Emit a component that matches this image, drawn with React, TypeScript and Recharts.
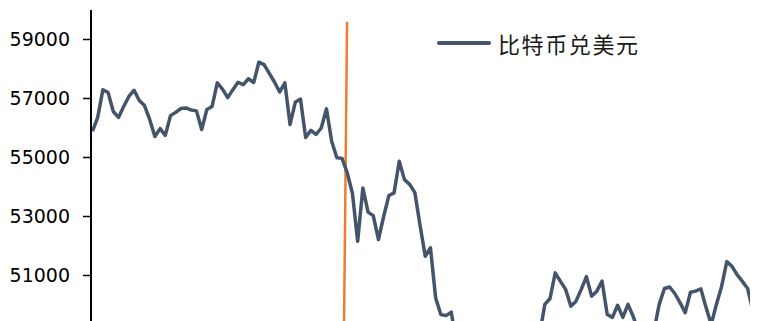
import React from "react";
import { LineChart, Line, XAxis, YAxis, ReferenceLine, Legend } from "recharts";

// BTC/USD price samples (equally spaced in time)
const btcUsd: number[] = [
  55890, 56360, 57300, 57200, 56560, 56360, 56730, 57070, 57280, 56930,
  56760, 56290, 55710, 55980, 55750, 56420, 56530, 56660, 56680, 56610,
  56580, 55950, 56630, 56730, 57530, 57320, 57030, 57300, 57550, 57470,
  57670, 57540, 58230, 58150, 57850, 57560, 57220, 57530, 56120, 56870,
  56980, 55680, 55920, 55780, 56000, 56650, 55550, 54990, 54970, 54480,
  53780, 52160, 53970, 53150, 53030, 52220, 53000, 53710, 53800, 54870,
  54250, 54090, 53810, 52700, 51650, 51940, 50240, 49680, 49640, 49760,
  48700, 48900, 48500, 48800, 49100, 48600, 48300, 48700, 49000, 48800,
  48400, 48600, 48900, 49200, 48700, 48600, 49000, 50020, 50220, 51090,
  50800, 50530, 49960, 50130, 50530, 50960, 50300, 50470, 50810, 49680,
  49580, 49990, 49580, 50020, 49610, 49100, 48800, 49000, 49130, 50020,
  50560, 50610, 50390, 50080, 49740, 50430, 50470, 50550, 49920, 49340,
  50020, 50630, 51470, 51310, 51020, 50800, 50560, 49810, 49440,
];

const timeIndex: number[] = btcUsd.map((_, i) => i);
const yTicks: number[] = [51000, 53000, 55000, 57000, 59000];
const yDomain: [number, number] = [47000, 60000];
const seriesName = "比特币兑美元";
// orange marker line (time index, price) endpoints
const eventLine = [
  { x: 48.25, y: 47000 },
  { x: 48.96, y: 59600 },
];

const data = timeIndex.map((t, i) => ({ t, v: btcUsd[i] }));

const renderLegend = () => (
  <div style={{ display: "flex", alignItems: "center", height: 30 }}>
    <svg width={54} height={8} style={{ display: "block" }}>
      <line x1={2} y1={4} x2={52} y2={4} stroke="#44546A" strokeWidth={4} strokeLinecap="round" />
    </svg>
    <span
      style={{
        marginLeft: 7,
        fontFamily: '"Noto Sans CJK SC", sans-serif',
        fontSize: 22,
        letterSpacing: 1.6,
        color: "#1a1a1a",
        lineHeight: "30px",
        whiteSpace: "nowrap",
      }}
    >
      {seriesName}
    </span>
  </div>
);

export default function App() {
  return (
    <div style={{ width: 750, height: 313, overflow: "hidden" }}>
      <LineChart
        width={750}
        height={390}
        data={data}
        margin={{ top: 2, right: 0, bottom: 4.5, left: 0 }}
      >
        <XAxis
          type="number"
          dataKey="t"
          domain={[0, timeIndex.length - 1]}
          hide
          padding={{ left: 1.5, right: 0 }}
        />
        <YAxis
          type="number"
          domain={yDomain}
          ticks={yTicks}
          interval={0}
          allowDataOverflow
          width={83}
          tickSize={8}
          tickMargin={13}
          axisLine={{ stroke: "#000", strokeWidth: 2 }}
          tickLine={{ stroke: "#000", strokeWidth: 1.5 }}
          tick={{ fill: "#000", fontSize: 19, fontFamily: '"DejaVu Sans", sans-serif' }}
        />
        <Legend
          layout="horizontal"
          verticalAlign="middle"
          align="center"
          content={renderLegend}
          wrapperStyle={{ top: 19.5, left: 429, width: 240, height: 30 }}
        />
        <ReferenceLine
          segment={eventLine}
          stroke="#ED7D31"
          strokeWidth={2.5}
          ifOverflow="visible"
        />
        <Line
          type="linear"
          dataKey="v"
          name={seriesName}
          stroke="#44546A"
          strokeWidth={3.5}
          strokeLinejoin="round"
          dot={false}
          activeDot={false}
          isAnimationActive={false}
        />
      </LineChart>
    </div>
  );
}
